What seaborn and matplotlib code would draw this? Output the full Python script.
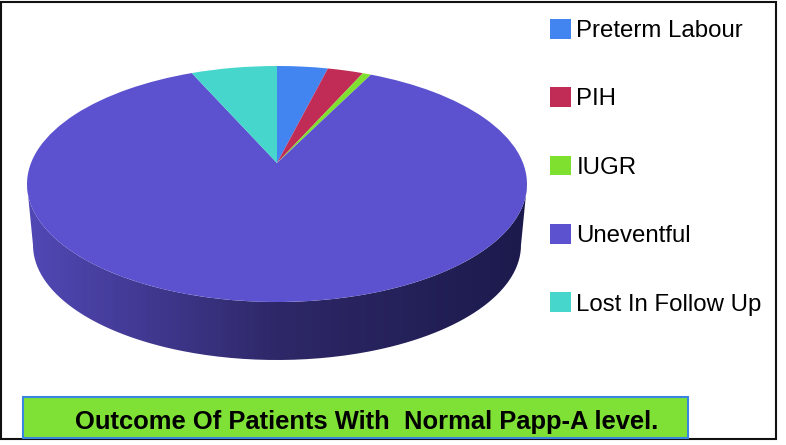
import numpy as np
import matplotlib
matplotlib.use("Agg")
import matplotlib.pyplot as plt
import seaborn as sns
from matplotlib.colors import LinearSegmentedColormap
from matplotlib.patches import PathPatch, Rectangle
from matplotlib.path import Path
from matplotlib.transforms import Transform

categories = ["Preterm Labour", "PIH", "IUGR", "Uneventful", "Lost In Follow Up"]
shares = [3.9, 2.75, 0.65, 86.1, 6.6]
colors = ["#4285f0", "#c02c55", "#7fe030", "#5c52cf", "#46d6cc"]
title_text = "Outcome Of Patients With  Normal Papp-A level."

sns.set_theme(style="white")
plt.rcParams["font.family"] = ["Liberation Sans", "DejaVu Sans"]


class Perspective(Transform):
    """Tilts the unit-circle pie into the reference's perspective view (pixels)."""
    input_dims = 2
    output_dims = 2
    is_separable = False
    has_inverse = False

    def transform_non_affine(self, values):
        values = np.asarray(values, dtype=float)
        u, v = values[:, 0], values[:, 1]
        w = 1 + 0.178 * v
        return np.column_stack([277 + 246 * u / w, (163 - 85.25 * v) / w])


fig = plt.figure(figsize=(7.86, 4.45), dpi=100, facecolor="white")
ax = fig.add_axes([0, 0, 1, 1])

wedges, _ = ax.pie(shares, colors=sns.color_palette(colors), startangle=90,
                   counterclock=False, wedgeprops={"linewidth": 0})
persp = Perspective() + ax.transData
for w in wedges:
    w.set_transform(persp)
    w.set_zorder(3)

# Extruded rim of the disc, a left-to-right gradient clipped to the rim outline
t = np.radians(np.linspace(180, 360, 181))
tx, ty = 277 + 250 * np.cos(t), 184 - 118 * np.sin(t)
bx, by = 277 + 244 * np.cos(t), 245 - 115 * np.sin(t)
outline = np.vstack([np.column_stack([tx, ty]), np.column_stack([bx, by])[::-1], [[tx[0], ty[0]]]])
rim = LinearSegmentedColormap.from_list(
    "rim", [(0, "#5248b6"), (0.5, "#2e2868"), (1, "#1c1a4c")])
gradient = np.linspace(0, 1, 256)[None, :]
img = ax.imshow(gradient, cmap=rim, extent=(tx.min(), tx.max(), 361, 180),
                aspect="auto", zorder=2, interpolation="bilinear")
clip = PathPatch(Path(outline), transform=ax.transData, facecolor="none", edgecolor="none")
ax.add_patch(clip)
img.set_clip_path(clip)

ax.set_aspect("auto")
ax.set_xlim(0, 786)
ax.set_ylim(445, 0)
ax.axis("off")

# Outer frame and caption box
ax.add_patch(Rectangle((1, 2), 775, 437, fill=False, edgecolor="#111111", lw=1.5, zorder=1))
ax.add_patch(Rectangle((23, 397), 665, 41, facecolor="#7fe035", edgecolor="#3a85e0",
                       lw=1.5, zorder=4))
ax.text(366.5, 421.5, title_text, ha="center", va="center", fontsize=18.4,
        fontweight="bold", color="black", zorder=5)

ax.legend(wedges, categories, loc="upper left", bbox_to_anchor=(550, 19),
          bbox_transform=ax.transData, frameon=False, fontsize=17.3,
          handlelength=0.875, handleheight=0.875, handletextpad=0.22,
          labelspacing=1.885, borderpad=0, borderaxespad=0, labelcolor="black")

fig.savefig("out.png", dpi=100, facecolor="white")
